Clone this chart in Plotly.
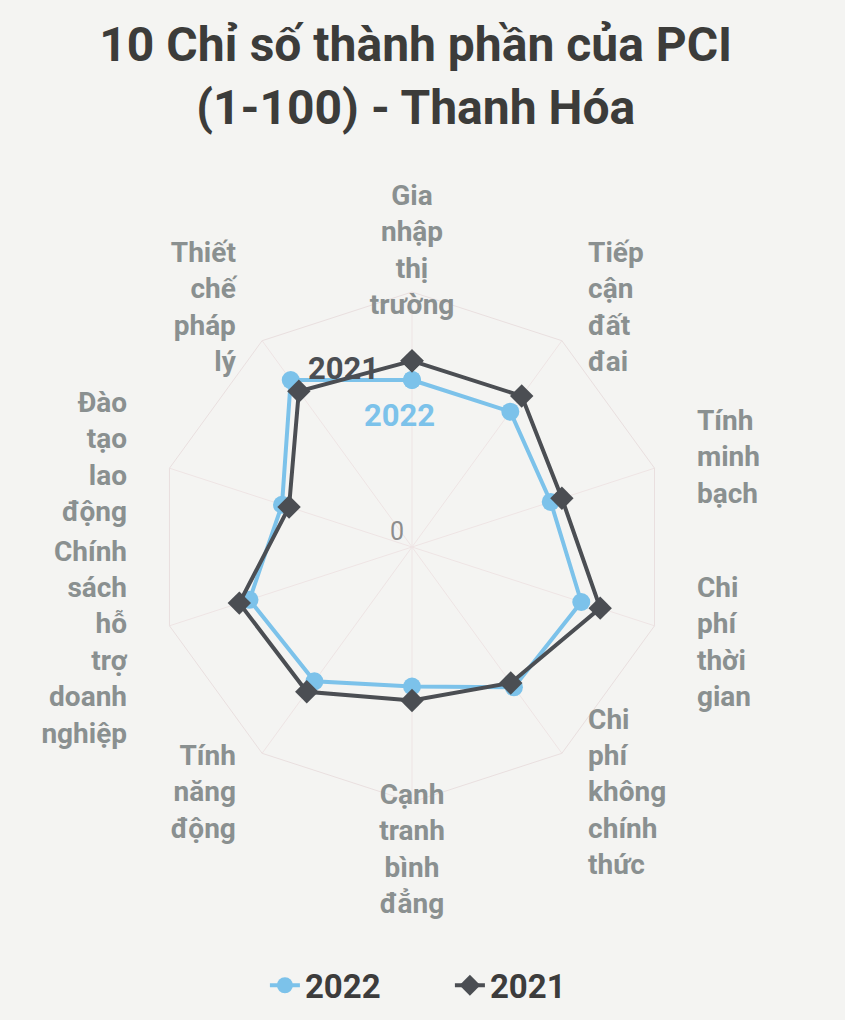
import plotly.graph_objects as go

categories = [
    "Gia nhập thị trường",
    "Tiếp cận đất đai",
    "Tính minh bạch",
    "Chi phí thời gian",
    "Chi phí không chính thức",
    "Cạnh tranh bình đẳng",
    "Tính năng động",
    "Chính sách hỗ trợ doanh nghiệp",
    "Đào tạo lao động",
    "Thiết chế pháp lý",
]
values_2022 = [6.55, 6.56, 5.72, 6.98, 6.80, 5.47, 6.51, 6.70, 5.36, 8.09]
values_2021 = [7.30, 7.32, 6.18, 7.76, 6.59, 6.02, 7.02, 7.12, 5.07, 7.55]
label_positions = ["middle center", "middle right", "middle right", "middle right",
                   "middle right", "middle center", "middle left", "middle left",
                   "middle left", "middle left"]
radial_min_label = "0"
radial_max = 10
label_radius = 11.75
label_axis_max = 12

BLUE = "#7cc2ea"
DARK = "#4b4e53"
LABEL = "#8a9090"
BG = "#f4f4f2"
FONT = "Roboto"

W, H = 845, 1020
CX, CY, R = 412, 547, 255  # chart centre and radius in pixels
LABEL_DY = 5               # category labels sit slightly lower


def domain(radius, dy=0):
    cy = CY + dy
    return dict(x=[(CX - radius) / W, (CX + radius) / W],
                y=[(H - cy - radius) / H, (H - cy + radius) / H])


def closed(v):
    return list(v) + [v[0]]


wrapped = ["<br>".join(c.split()) for c in categories]

fig = go.Figure()
fig.add_trace(go.Scatterpolar(
    r=closed(values_2022), theta=closed(categories), name="2022",
    mode="lines+markers",
    line=dict(color=BLUE, width=4),
    marker=dict(symbol="circle", size=18, color=BLUE),
))
fig.add_trace(go.Scatterpolar(
    r=closed(values_2021), theta=closed(categories), name="2021",
    mode="lines+markers",
    line=dict(color=DARK, width=4),
    marker=dict(symbol="diamond", size=18, color=DARK),
))
# category labels (overlay polar with a wider radial range, same scale)
fig.add_trace(go.Scatterpolar(
    r=[label_radius] * len(categories), theta=categories, subplot="polar2",
    mode="text", text=wrapped, textposition=label_positions,
    textfont=dict(family=FONT, size=28, color=LABEL, weight="bold"),
    showlegend=False, hoverinfo="skip", cliponaxis=False,
))

hidden_angular = dict(rotation=90, direction="clockwise", showline=False,
                      showgrid=False, ticks="", showticklabels=False)
hidden_radial = dict(range=[0, label_axis_max], showline=False, showgrid=False,
                     ticks="", showticklabels=False)

fig.update_layout(
    width=W, height=H,
    margin=dict(l=0, r=0, t=0, b=0),
    paper_bgcolor=BG, plot_bgcolor=BG,
    font=dict(family=FONT),
    title=dict(
        text="10 Chỉ số thành phần của PCI<br>(1-100) - Thanh Hóa",
        x=0.492, xanchor="center", y=0.94, yanchor="top",
        font=dict(family=FONT, size=48, color="#3c3c3a", weight="bold"),
    ),
    polar=dict(
        bgcolor=BG,
        domain=domain(R),
        gridshape="linear",
        angularaxis=dict(
            rotation=90, direction="clockwise",
            showline=True, linecolor="#e9dfdf", linewidth=1,
            showgrid=True, gridcolor="#eee4e4", gridwidth=1,
            ticks="", showticklabels=False,
        ),
        radialaxis=dict(
            range=[0, radial_max],
            showline=False, showgrid=False, ticks="", showticklabels=False,
        ),
    ),
    polar2=dict(
        bgcolor="rgba(0,0,0,0)",
        domain=domain(R * label_axis_max / radial_max, LABEL_DY),
        gridshape="linear",
        angularaxis=hidden_angular,
        radialaxis=hidden_radial,
    ),
    showlegend=True,
    legend=dict(
        orientation="h", x=0.3135, xanchor="left", y=0.034, yanchor="middle",
        font=dict(family=FONT, size=33, color="#3c3c3c", weight="bold"),
        entrywidth=140, entrywidthmode="pixels",
    ),
    annotations=[
        dict(text=radial_min_label, x=(CX - 15) / W, y=(H - CY + 15) / H,
             xref="paper", yref="paper", showarrow=False,
             font=dict(family=FONT, size=25, color="#8d8d8d")),
        dict(text="2021", x=0.407, y=0.639, xref="paper", yref="paper",
             showarrow=False, font=dict(family=FONT, size=31, color=DARK, weight="bold")),
        dict(text="2022", x=0.473, y=0.593, xref="paper", yref="paper",
             showarrow=False, font=dict(family=FONT, size=31, color=BLUE, weight="bold")),
    ],
)

fig.write_html(
    "out.html",
    config={"displayModeBar": False},
    post_script="document.body.style.margin='0';document.body.style.background='#f4f4f2';",
)
